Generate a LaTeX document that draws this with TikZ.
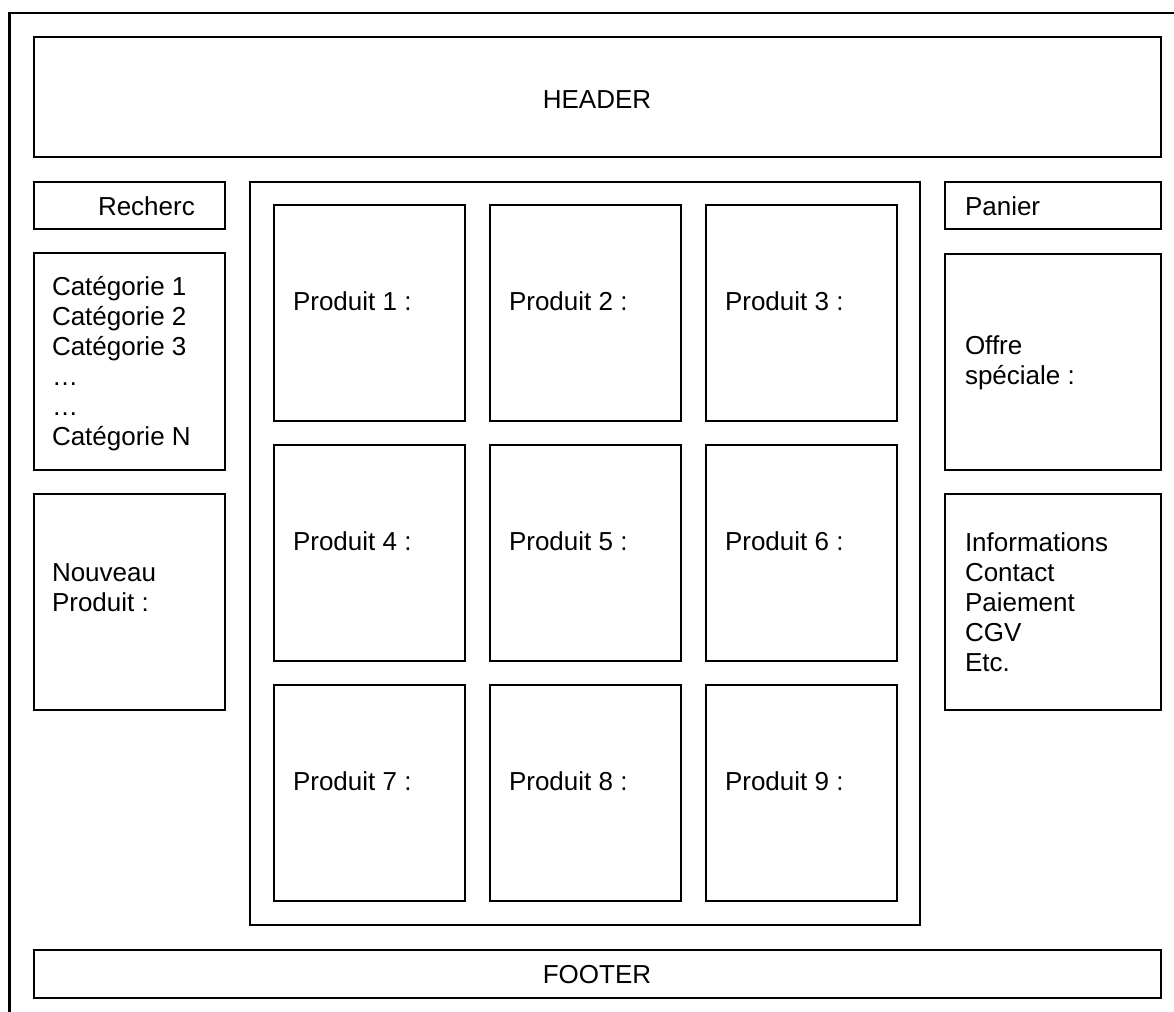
\documentclass[tikz,border=0pt]{standalone}
\usepackage{fontspec}
\setmainfont{Liberation Sans}
\tikzset{
  box/.style={draw=black, line width=1.8pt, rectangle, inner sep=0pt, outer sep=0pt, fill=none},
  txt/.style={inner sep=0pt, outer sep=0pt, anchor=west, align=left, font=\fontsize{19.5}{22.5}\selectfont},
  ctxt/.style={inner sep=0pt, outer sep=0pt, anchor=center, font=\fontsize{19.5}{22.5}\selectfont},
  frame/.style={draw=black, line width=1.8pt}
}
\newcommand{\pbox}[5]{\node[box, minimum width={(#4-#2)*0.75pt}, minimum height={(#5-#3)*0.75pt}] (#1) at ({(#2+#4)/2},{(#3+#5)/2}) {};}
\begin{document}
\begin{tikzpicture}[x=0.75pt,y=-0.75pt]
\useasboundingbox (0,0) rectangle (1174,1012);
% outer frame (partly outside the page)
\coordinate (fa) at (9.5,1020);
\coordinate (fb) at (9.5,13);
\coordinate (fc) at (1180,13);
\draw[frame] (fa) -- (fb) -- (fc);
% header / footer
\pbox{header}{34}{37}{1161}{157}
\node[ctxt] (theader) at (597,100) {HEADER};
\pbox{footer}{34}{950}{1161}{998}
\node[ctxt] (tfooter) at (597,975) {FOOTER};
% left column
\pbox{search}{34}{182}{225}{229}
\node[txt] (tsearch) at (98,206) {Recherc};
\pbox{cats}{34}{253}{225}{470}
\node[txt] (tcats) at (52,364) {Catégorie 1\\Catégorie 2\\Catégorie 3\\…\\…\\Catégorie N};
\pbox{new}{34}{494}{225}{710}
\node[txt] (tnew) at (52,588) {Nouveau\\Produit :};
% main area
\pbox{main}{250}{182}{920}{925}
\pbox{p1}{274}{205}{465}{421}
\pbox{p2}{490}{205}{681}{421}
\pbox{p3}{706}{205}{897}{421}
\pbox{p4}{274}{445}{465}{661}
\pbox{p5}{490}{445}{681}{661}
\pbox{p6}{706}{445}{897}{661}
\pbox{p7}{274}{685}{465}{901}
\pbox{p8}{490}{685}{681}{901}
\pbox{p9}{706}{685}{897}{901}
\node[txt] (tp1) at (293,301) {Produit 1 :};
\node[txt] (tp2) at (509,301) {Produit 2 :};
\node[txt] (tp3) at (725,301) {Produit 3 :};
\node[txt] (tp4) at (293,541) {Produit 4 :};
\node[txt] (tp5) at (509,541) {Produit 5 :};
\node[txt] (tp6) at (725,541) {Produit 6 :};
\node[txt] (tp7) at (293,781) {Produit 7 :};
\node[txt] (tp8) at (509,781) {Produit 8 :};
\node[txt] (tp9) at (725,781) {Produit 9 :};
% right column
\pbox{cart}{945}{182}{1161}{229}
\node[txt] (tcart) at (965,206) {Panier};
\pbox{offer}{945}{254}{1161}{470}
\node[txt] (toffer) at (965,363) {Offre\\spéciale :};
\pbox{info}{945}{494}{1161}{710}
\node[txt] (tinfo) at (965,602) {Informations\\Contact\\Paiement\\CGV\\Etc.};
\end{tikzpicture}
\end{document}
